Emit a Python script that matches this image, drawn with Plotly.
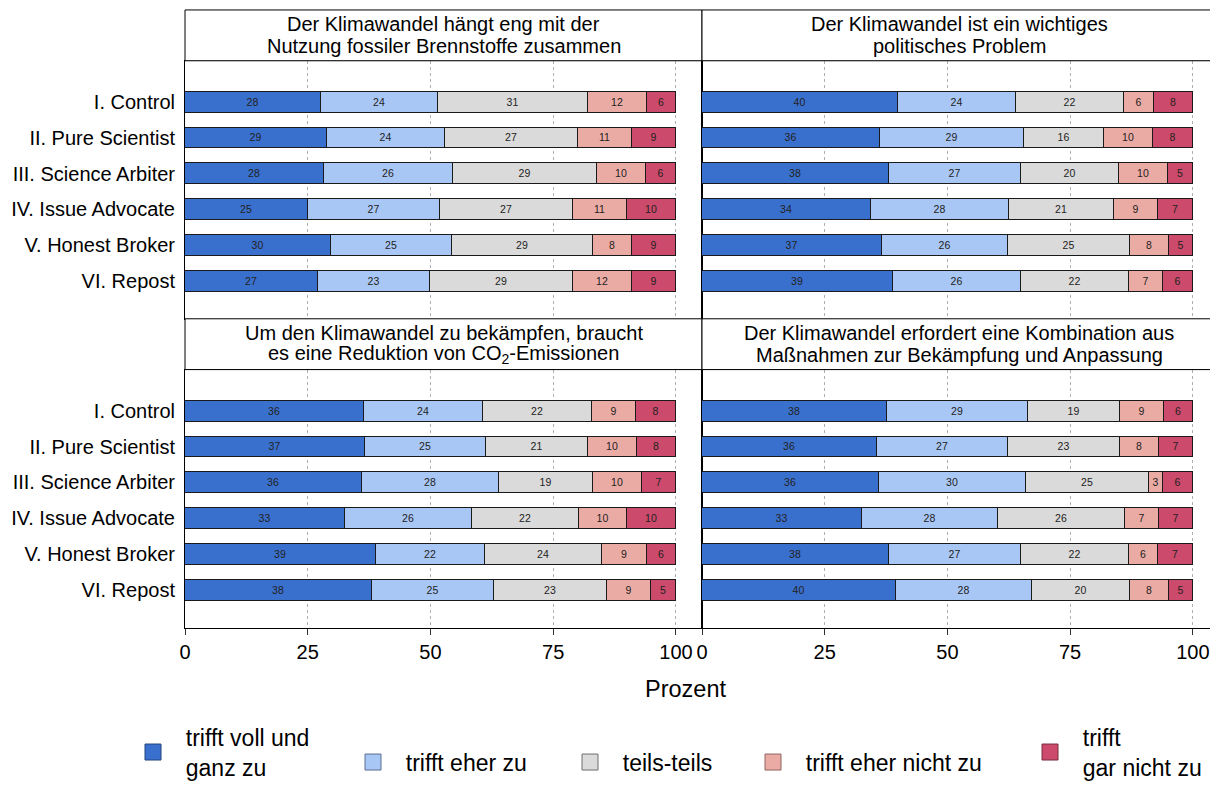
import plotly.graph_objects as go

W, H = 1210, 789

groups = ["I. Control", "II. Pure Scientist", "III. Science Arbiter",
          "IV. Issue Advocate", "V. Honest Broker", "VI. Repost"]
categories = ["trifft voll und<br>ganz zu", "trifft eher zu", "teils-teils",
              "trifft eher nicht zu", "trifft<br>gar nicht zu"]
colors = ["#3A70CD", "#A9C7F5", "#DADADA", "#EBABA5", "#CC4A6B"]
legend_edge = ["#22457F", "#5A6E8F", "#6F6F6F", "#8F6461", "#7A2D40"]

titles = [
    ["Der Klimawandel hängt eng mit der", "Nutzung fossiler Brennstoffe zusammen"],
    ["Der Klimawandel ist ein wichtiges", "politisches Problem"],
    ["Um den Klimawandel zu bekämpfen, braucht", "es eine Reduktion von CO<sub>2</sub>-Emissionen"],
    ["Der Klimawandel erfordert eine Kombination aus", "Maßnahmen zur Bekämpfung und Anpassung"],
]

# values per statement, per answer category, in order of groups
fossil_voll = [28, 29, 28, 25, 30, 27]
fossil_eher = [24, 24, 26, 27, 25, 23]
fossil_teils = [31, 27, 29, 27, 29, 29]
fossil_ehernicht = [12, 11, 10, 11, 8, 12]
fossil_gar = [6, 9, 6, 10, 9, 9]

politik_voll = [40, 36, 38, 34, 37, 39]
politik_eher = [24, 29, 27, 28, 26, 26]
politik_teils = [22, 16, 20, 21, 25, 22]
politik_ehernicht = [6, 10, 10, 9, 8, 7]
politik_gar = [8, 8, 5, 7, 5, 6]

co2_voll = [36, 37, 36, 33, 39, 38]
co2_eher = [24, 25, 28, 26, 22, 25]
co2_teils = [22, 21, 19, 22, 24, 23]
co2_ehernicht = [9, 10, 10, 10, 9, 9]
co2_gar = [8, 8, 7, 10, 6, 5]

kombi_voll = [38, 36, 36, 33, 38, 40]
kombi_eher = [29, 27, 30, 28, 27, 28]
kombi_teils = [19, 23, 25, 26, 22, 20]
kombi_ehernicht = [9, 8, 3, 7, 6, 8]
kombi_gar = [6, 7, 6, 7, 7, 5]

panels = [
    [fossil_voll, fossil_eher, fossil_teils, fossil_ehernicht, fossil_gar],
    [politik_voll, politik_eher, politik_teils, politik_ehernicht, politik_gar],
    [co2_voll, co2_eher, co2_teils, co2_ehernicht, co2_gar],
    [kombi_voll, kombi_eher, kombi_teils, kombi_ehernicht, kombi_gar],
]

FONT = "Liberation Sans, Arial, Helvetica, sans-serif"
NB = "\u00a0\u00a0"

def px_x(p):
    return p / W

def px_y(p):
    return 1 - p / H

# layout geometry (pixels)
col_x = [(185, 702), (702, 1210)]
col_range = [[0, 105.3], [0, 103.5]]
row_plot = [(61, 320), (371, 630)]
row_strip = [(10, 61), (320, 371)]
title_line_y = [(24, 46), (334, 356)]

fig = go.Figure()

for pi, series in enumerate(panels):
    axn = "" if pi == 0 else str(pi + 1)
    totals = [sum(series[k][g] for k in range(5)) for g in range(6)]
    for k in range(5):
        vals = series[k]
        fig.add_trace(go.Bar(
            y=groups,
            x=[v / t * 100 for v, t in zip(vals, totals)],
            text=[str(v) for v in vals],
            texttemplate="%{text}",
            orientation="h",
            width=0.58,
            marker=dict(color=colors[k], line=dict(color="#1a1a1a", width=1)),
            textposition="inside",
            insidetextanchor="middle",
            textangle=0,
            constraintext="none",
            textfont=dict(size=10.5, color="#222222", family=FONT),
            showlegend=False,
            hoverinfo="skip",
            xaxis="x" + axn,
            yaxis="y" + axn,
        ))

# legend entries (one legend per entry so each can be placed like the reference)
legend_text_x = [186, 406, 623, 806, 1083]
legend_center_y = [755, 765, 765, 765, 755]
for k in range(5):
    lname = "legend" if k == 0 else "legend" + str(k + 1)
    label = "<br>".join(NB + part for part in categories[k].split("<br>"))
    fig.add_trace(go.Scatter(
        x=[None], y=[None], mode="markers",
        marker=dict(symbol="square", size=20, color=colors[k],
                    line=dict(color=legend_edge[k], width=1)),
        name=label, showlegend=True, legend=lname,
        hoverinfo="skip",
    ))

layout = dict(
    width=W, height=H,
    margin=dict(l=0, r=0, t=0, b=0, pad=0),
    paper_bgcolor="white", plot_bgcolor="white",
    barmode="stack",
    bargap=0,
    font=dict(family=FONT, color="black"),
)

for pi in range(4):
    r, c = divmod(pi, 2)
    axn = "" if pi == 0 else str(pi + 1)
    bottom = (r == 1)
    left = (c == 0)
    layout["xaxis" + axn] = dict(
        domain=[px_x(col_x[c][0]), px_x(col_x[c][1])],
        range=col_range[c],
        anchor="y" + axn,
        automargin=False,
        tickvals=[0, 25, 50, 75, 100],
        ticktext=["0", "25", "50", "75", "100"],
        showgrid=True, griddash="dot", gridcolor="#b0b0b0", gridwidth=1,
        zeroline=False,
        showline=True, mirror=True, linecolor="black", linewidth=1,
        showticklabels=bottom,
        ticks="outside" if bottom else "",
        ticklen=6, tickcolor="#333333", tickwidth=1,
        tickfont=dict(size=20, color="black", family=FONT),
        fixedrange=True,
    )
    layout["yaxis" + axn] = dict(
        domain=[px_y(row_plot[r][1]), px_y(row_plot[r][0])],
        anchor="x" + axn,
        automargin=False,
        type="category",
        categoryorder="array", categoryarray=groups,
        range=[6.05, -1.15],
        showgrid=False, zeroline=False,
        showline=True, mirror=True, linecolor="black", linewidth=1,
        showticklabels=left,
        ticks="",
        ticklabelstandoff=5,
        tickfont=dict(size=20, color="black", family=FONT),
        fixedrange=True,
    )

for k in range(5):
    lname = "legend" if k == 0 else "legend" + str(k + 1)
    layout[lname] = dict(
        x=px_x(legend_text_x[k] - 53), y=px_y(legend_center_y[k]),
        xanchor="left", yanchor="middle",
        orientation="h",
        bgcolor="rgba(0,0,0,0)", borderwidth=0,
        font=dict(size=23, color="black", family=FONT),
        itemsizing="trace",
    )

fig.update_layout(**layout)

shapes = []
annotations = []
for r in range(2):
    for c in range(2):
        shapes.append(dict(
            type="rect", xref="paper", yref="paper",
            x0=px_x(col_x[c][0]), x1=px_x(col_x[c][1] + (10 if c == 1 else 0)),
            y0=px_y(row_strip[r][1]), y1=px_y(row_strip[r][0]),
            line=dict(color="black", width=1), fillcolor="white", layer="above",
        ))
        for li in range(2):
            annotations.append(dict(
                xref="paper", yref="paper",
                x=px_x((col_x[c][0] + col_x[c][1]) / 2 + (3 if c == 1 else 0)),
                y=px_y(title_line_y[r][li]),
                text=titles[r * 2 + c][li], showarrow=False,
                xanchor="center", yanchor="middle", align="center",
                font=dict(size=20, color="black", family=FONT),
            ))

annotations.append(dict(
    xref="paper", yref="paper", x=px_x(685), y=px_y(692),
    text="Prozent", showarrow=False, xanchor="center", yanchor="middle",
    font=dict(size=23.5, color="black", family=FONT),
))

fig.update_layout(shapes=shapes, annotations=annotations)

fig.write_html("out.html",
               config={"displayModeBar": False},
               post_script="document.body.style.margin='0';document.body.style.overflow='hidden';")
